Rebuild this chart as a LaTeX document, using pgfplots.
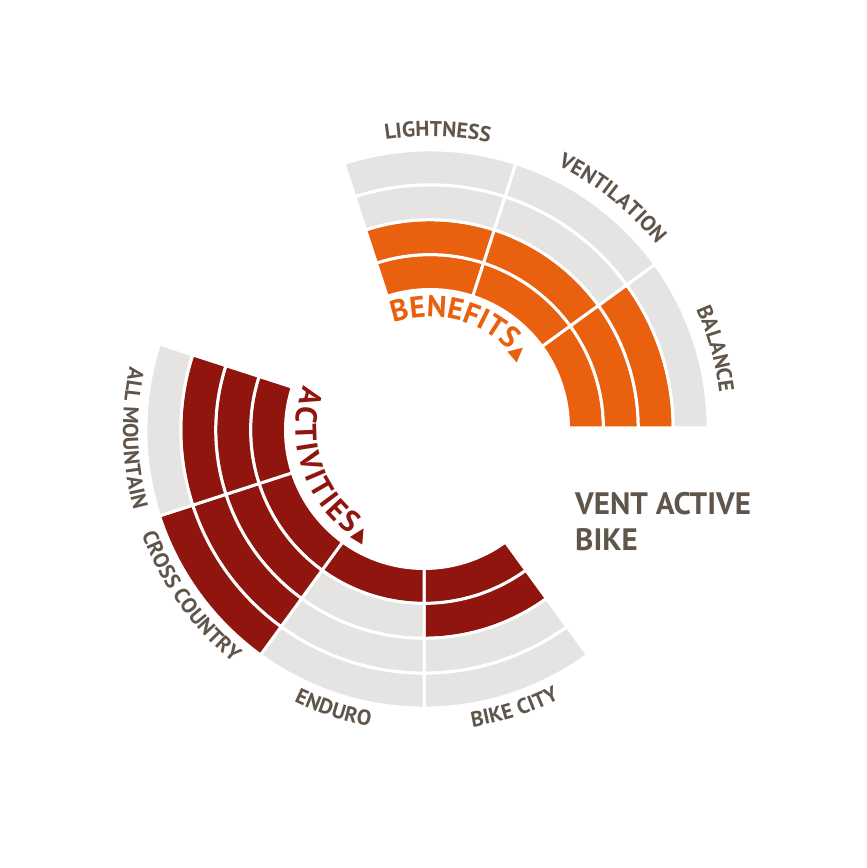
\documentclass[border=0pt]{standalone}
\usepackage{pgfplots}
\usepackage{pgfplotstable}
\pgfplotsset{compat=1.18}
\usepackage{fontspec}
\setmainfont{PT Sans}
\newfontfamily\symfont{DejaVu Sans}
\usetikzlibrary{decorations.text}

\definecolor{benefit}{HTML}{E9600E}
\definecolor{activity}{HTML}{91150F}
\definecolor{ringgray}{HTML}{E6E4E2}
\definecolor{labelgray}{HTML}{5F554B}

\newcommand\labelfont{\fontsize{21.5}{25}\selectfont\bfseries}
\newcommand\bigfont{\fontsize{30}{34}\selectfont\bfseries}
\newcommand\trifont{\symfont\fontsize{19}{22}\selectfont}
\newcommand\titlefont{\fontsize{31}{36}\selectfont\bfseries}
% letter-spaced character for text set along a path
\newcommand\spaced[1]{#1\kern2.5pt}

% score per category (0-4 rings), angular span in degrees, label position
\pgfplotstableread[col sep=comma]{
name,start,end,value,labelat
LIGHTNESS,72,108,2,88.5
VENTILATION,36,72,2,51.5
BALANCE,0,36,3,15.5
}\benefits
\pgfplotstableread[col sep=comma]{
name,start,end,value,labelat
BIKE CITY,-90,-54,2,-72
ENDURO,-126,-90,1,-108
CROSS COUNTRY,-162,-126,4,-144.5
ALL MOUNTAIN,-198,-162,3,-178.4
}\activities

% one ring k (1 = innermost) of a segment between angles a1 and a2
\newcommand\ring[6]{%
  \edef\ringcmd{\noexpand\fill[fill=#6,draw=white,line width=3pt,shift={(axis cs:#1,#2)}]
    (#3:{138.5pt+(#5-1)*34.9pt}) arc[start angle=#3,end angle=#4,radius={138.5pt+(#5-1)*34.9pt}]
    -- (#4:{138.5pt+#5*34.9pt}) arc[start angle=#4,end angle=#3,radius={138.5pt+#5*34.9pt}] -- cycle;}%
  \ringcmd}
% a segment: four rings, the first "value" of them coloured
\newcommand\segment[6]{%
  \ring{#1}{#2}{#3}{#4}{1}{\ifnum#5>0 #6\else ringgray\fi}%
  \ring{#1}{#2}{#3}{#4}{2}{\ifnum#5>1 #6\else ringgray\fi}%
  \ring{#1}{#2}{#3}{#4}{3}{\ifnum#5>2 #6\else ringgray\fi}%
  \ring{#1}{#2}{#3}{#4}{4}{\ifnum#5>3 #6\else ringgray\fi}}
% text set along an arc; dir 1 = clockwise (letters outward), -1 = counter-clockwise
\newcommand\curvedlabel[6]{%
  \path[shift={(axis cs:#1,#2)},decorate,decoration={text along path,text align=center,
      text color=labelgray,text={|\labelfont|#6}}]
    ({#4+#5*40}:#3pt) arc[start angle={#4+#5*40},end angle={#4-#5*40},radius=#3pt];}
% whole chart from a table
\newcommand\drawchart[6]{% table, cx, cy, colour, label radius, label dir
  \pgfplotstablegetrowsof{#1}\pgfmathtruncatemacro\lastrow{\pgfplotsretval-1}%
  \pgfplotsinvokeforeach{0,...,\lastrow}{%
    \pgfplotstablegetelem{##1}{start}\of#1\let\segA\pgfplotsretval
    \pgfplotstablegetelem{##1}{end}\of#1\let\segB\pgfplotsretval
    \pgfplotstablegetelem{##1}{value}\of#1\let\segV\pgfplotsretval
    \pgfplotstablegetelem{##1}{labelat}\of#1\let\segL\pgfplotsretval
    \pgfplotstablegetelem{##1}{name}\of#1\let\segN\pgfplotsretval
    \edef\next{\noexpand\segment{#2}{#3}{\segA}{\segB}{\segV}{#4}%
      \noexpand\curvedlabel{#2}{#3}{#5}{\segL}{#6}{\segN}}%
    \next}}

\begin{document}
\begin{tikzpicture}
\begin{axis}[x=1pt,y=1pt,xmin=0,xmax=867,ymin=0,ymax=868,hide axis,clip=false]
\path (axis cs:0,0) rectangle (axis cs:867,868);
\drawchart{\benefits}{430}{440}{benefit}{291.5}{1}
\drawchart{\activities}{424}{438}{activity}{301}{-1}
% inner titles
\path[shift={(axis cs:430,440)},decorate,decoration={text along path,text align=center,
    text color=benefit,text={|\bigfont|BENEFITS|\trifont|▲}}]
  (123:111pt) arc[start angle=123,end angle=23,radius=111pt];
\path[shift={(axis cs:424,438)},decorate,decoration={text along path,text align=center,
    text color=activity,text={|\bigfont|{\spaced A}{\spaced C}{\spaced T}{\spaced I}{\spaced V}{\spaced I}{\spaced T}{\spaced I}{\spaced E}{\spaced S}|\trifont|▲}}]
  (148:128pt) arc[start angle=148,end angle=254,radius=128pt];
\node[anchor=base west,inner sep=0,font=\titlefont,text=labelgray] at (axis cs:575,353) {VENT ACTIVE};
\node[anchor=base west,inner sep=0,font=\titlefont,text=labelgray] at (axis cs:575,317) {BIKE};
\end{axis}
\end{tikzpicture}
\end{document}
